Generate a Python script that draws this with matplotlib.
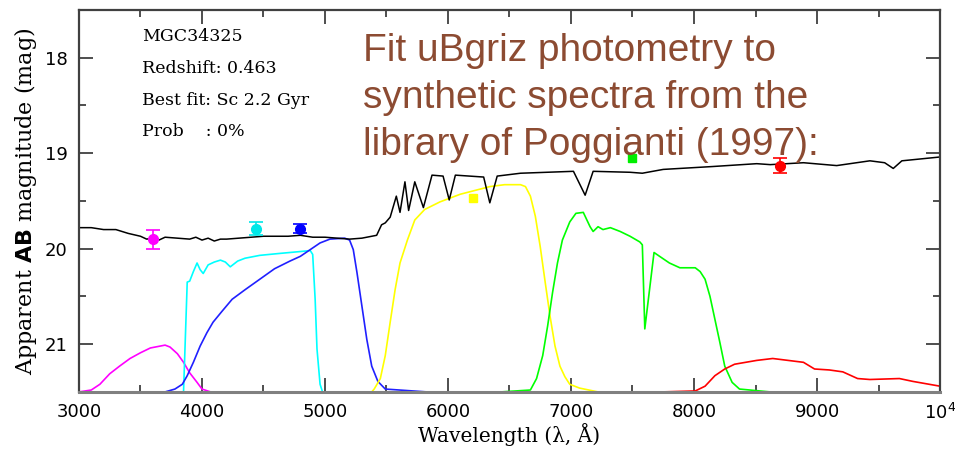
import matplotlib.pyplot as plt
import numpy as np

# best-fit synthetic spectrum (AB mag vs wavelength)
spec_wave = [3000, 3100, 3200, 3300, 3400, 3500, 3550, 3600, 3650, 3700, 3800, 3900, 3950, 4000, 4050, 4100,
             4150, 4200, 4300, 4400, 4500, 4600, 4700, 4800, 4900, 5000, 5100, 5200, 5300, 5420, 5460, 5490,
             5530, 5580, 5610, 5650, 5680, 5730, 5800, 5870, 5960, 6010, 6060, 6290, 6340, 6400, 6590, 7020,
             7115, 7180, 7480, 7580, 7750, 8150, 8510, 8620, 8890, 9160, 9430, 9550, 9620, 9690, 10000]
spec_mag = [19.78, 19.78, 19.80, 19.80, 19.84, 19.87, 19.90, 19.89, 19.91, 19.88, 19.89, 19.90, 19.88, 19.91, 19.89, 19.92,
            19.90, 19.90, 19.89, 19.88, 19.87, 19.87, 19.87, 19.86, 19.88, 19.88, 19.89, 19.90, 19.89, 19.86, 19.75, 19.73,
            19.67, 19.45, 19.62, 19.30, 19.60, 19.30, 19.57, 19.23, 19.24, 19.49, 19.23, 19.25, 19.52, 19.24, 19.21, 19.19,
            19.44, 19.19, 19.20, 19.21, 19.17, 19.14, 19.11, 19.12, 19.10, 19.13, 19.08, 19.10, 19.16, 19.08, 19.04]

# observed photometry
phot_wave = [3600, 4440, 4800, 6200, 7500, 8700]
phot_mag = [19.90, 19.79, 19.79, 19.47, 19.05, 19.13]
phot_err = [0.10, 0.07, 0.05, 0.0, 0.0, 0.08]
phot_col = ['#ff00ff', '#00e8e8', '#0000ff', '#ffff00', '#00ee00', '#ff0000']
phot_mk = ['o', 'o', 'o', 's', 's', 'o']

# filter response curves, drawn on the magnitude scale
u_wave = [3000, 3100, 3170, 3250, 3330, 3415, 3500, 3580, 3660, 3700, 3740, 3800, 3850, 3900, 3960, 4000, 4070, 4150]
u_mag = [21.5, 21.48, 21.42, 21.31, 21.23, 21.15, 21.09, 21.04, 21.02, 21.01, 21.03, 21.10, 21.19, 21.30, 21.40, 21.47, 21.5, 21.5]

b_wave = [3600, 3850, 3880, 3900, 3930, 3960, 3985, 4010, 4050, 4100, 4150, 4190, 4230, 4290, 4350, 4470, 4630,
          4800, 4880, 4900, 4920, 4935, 4960, 4980, 5220]
b_mag = [21.5, 21.5, 20.35, 20.34, 20.24, 20.15, 20.22, 20.26, 20.17, 20.14, 20.12, 20.14, 20.19, 20.13, 20.10, 20.07, 20.05,
         20.03, 20.02, 20.06, 20.53, 21.05, 21.42, 21.5, 21.5]

g_wave = [3630, 3700, 3780, 3840, 3880, 3930, 3985, 4040, 4090, 4160, 4245, 4350, 4470, 4590, 4715, 4800, 4960, 5040,
          5160, 5200, 5230, 5260, 5300, 5340, 5380, 5430, 5490, 5830]
g_mag = [21.5, 21.5, 21.47, 21.42, 21.33, 21.19, 21.02, 20.88, 20.77, 20.66, 20.53, 20.43, 20.32, 20.21, 20.13, 20.08, 19.94, 19.90,
         19.89, 19.91, 20.01, 20.25, 20.60, 20.95, 21.23, 21.39, 21.47, 21.5]

r_wave = [5380, 5400, 5450, 5490, 5530, 5570, 5610, 5670, 5730, 5810, 5935, 6100, 6220, 6340, 6460, 6590, 6630, 6670,
          6710, 6750, 6790, 6830, 6870, 6910, 6950, 6990, 7070, 7220]
r_mag = [21.5, 21.47, 21.36, 21.12, 20.77, 20.43, 20.15, 19.91, 19.70, 19.59, 19.51, 19.43, 19.39, 19.35, 19.33, 19.33, 19.35, 19.45,
         19.66, 19.98, 20.35, 20.71, 21.02, 21.23, 21.34, 21.42, 21.46, 21.5]

i_wave = [6430, 6670, 6720, 6770, 6810, 6850, 6890, 6930, 6990, 7040, 7100, 7155, 7180, 7220, 7260, 7320, 7400, 7480,
          7560, 7580, 7600, 7675, 7720, 7800, 7885, 8010, 8050, 8090, 8130, 8170, 8210, 8250, 8310, 8370, 8620]
i_mag = [21.5, 21.48, 21.36, 21.12, 20.81, 20.46, 20.15, 19.91, 19.72, 19.63, 19.62, 19.77, 19.82, 19.77, 19.80, 19.78, 19.82, 19.87,
         19.93, 19.96, 20.84, 20.04, 20.08, 20.15, 20.20, 20.20, 20.24, 20.32, 20.50, 20.74, 20.98, 21.23, 21.40, 21.47, 21.5]

z_wave = [7740, 8010, 8090, 8170, 8250, 8330, 8510, 8640, 8890, 8980, 9100, 9210, 9330, 9430, 9670, 9780, 10000]
z_mag = [21.5, 21.49, 21.44, 21.33, 21.26, 21.21, 21.17, 21.15, 21.19, 21.26, 21.27, 21.29, 21.36, 21.37, 21.36, 21.39, 21.44]

info_lines = ['MGC34325', 'Redshift: 0.463', 'Best fit: Sc 2.2 Gyr', 'Prob    : 0%']
note = 'Fit uBgriz photometry to\nsynthetic spectra from the\nlibrary of Poggianti (1997):'

fig = plt.figure(figsize=(9.55, 4.51), dpi=100)
ax = fig.add_axes([0.0827, 0.131, 0.9016, 0.847])

ax.plot(u_wave, u_mag, color='#ff00ff', lw=1.2)
ax.plot(b_wave, b_mag, color='#00ffff', lw=1.2)
ax.plot(g_wave, g_mag, color='#2020ff', lw=1.2)
ax.plot(r_wave, r_mag, color='#ffff00', lw=1.2)
ax.plot(i_wave, i_mag, color='#00ff00', lw=1.2)
ax.plot(z_wave, z_mag, color='#ff0000', lw=1.2)
ax.plot(spec_wave, spec_mag, color='black', lw=1.1)

for w, m, e, c, mk in zip(phot_wave, phot_mag, phot_err, phot_col, phot_mk):
    ax.errorbar(w, m, yerr=e if e > 0 else None, fmt=mk, color=c, ms=7 if mk == 'o' else 6,
                capsize=5, elinewidth=1.2, capthick=1.2)

ax.set_xlim(3000, 10000)
ax.set_ylim(21.5, 17.5)
ax.set_xticks([3000, 4000, 5000, 6000, 7000, 8000, 9000, 10000])
ax.set_xticklabels(['3000', '4000', '5000', '6000', '7000', '8000', '9000', r'$10^4$'])
ax.set_xticks(np.arange(3500, 10000, 1000), minor=True)
ax.set_yticks([18, 19, 20, 21])
ax.set_yticks([17.5, 18.5, 19.5, 20.5], minor=True)
ax.tick_params(which='both', direction='in', top=True, right=True, color='#404040', width=1.3,
               labelsize=13, pad=8)
ax.tick_params(which='major', length=10)
ax.tick_params(which='minor', length=5)
for s in ax.spines.values():
    s.set_color('#404040')
    s.set_linewidth(1.6)
ax.spines['bottom'].set_color('#808080')
ax.spines['bottom'].set_linewidth(2.2)

ax.set_xlabel('Wavelength (λ, Å)', family='DejaVu Serif', fontsize=14.5, labelpad=0)
ax.set_ylabel(r'Apparent $\mathbf{AB}$ magnitude (mag)', family='DejaVu Serif', fontsize=16, labelpad=4)

for k, line in enumerate(info_lines):
    ax.text(0.073, 0.93 - k * 0.083, line, transform=ax.transAxes, family='DejaVu Serif',
            fontsize=12.5, va='center', ha='left')

ax.text(0.330, 0.94, note, transform=ax.transAxes, color='#8c4b32', family='Liberation Sans',
        fontsize=28, va='top', ha='left', linespacing=1.4)

fig.savefig('out.png', dpi=100)
